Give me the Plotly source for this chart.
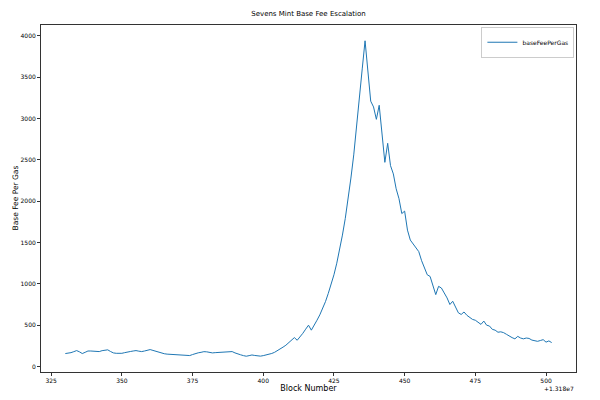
import plotly.graph_objects as go

BLOCK_OFFSET = 13180000
block_offsets = list(range(330, 503))
base_fee = [
    157, 160, 168, 180, 193, 178, 157, 172, 188, 188,   # 330-339
    184, 182, 181, 192, 198, 202, 182, 165, 160, 158,   # 340-349
    160, 168, 178, 182, 188, 193, 186, 181, 188, 198,   # 350-359
    205, 195, 185, 167, 160, 155, 150, 147, 145, 148,   # 360-369
    144, 141, 140, 136, 133, 145, 158, 166, 172, 180,   # 370-379
    178, 170, 165, 168, 171, 173, 170, 176, 180, 181,   # 380-389
    165, 150, 142, 132, 125, 132, 140, 134, 127, 126,   # 390-399
    132, 138, 146, 158, 172, 190, 210, 235, 258, 285,   # 400-409
    315, 350, 318, 358, 402, 452, 500, 440, 495, 560,   # 410-419
    625, 700, 785, 885, 990, 1110, 1250, 1410, 1590, 1790,  # 420-429
    2020, 2280, 2560, 2880, 3240, 3600, 3940, 3560, 3210, 3140,  # 430-439
    2990, 3160, 2800, 2470, 2700, 2430, 2330, 2150, 2030, 1850,  # 440-449
    1880, 1650, 1530, 1480, 1440, 1390, 1280, 1200, 1110, 1090,  # 450-459
    980, 870, 970, 950, 890, 830, 750, 790, 720, 650,   # 460-469
    630, 660, 620, 590, 570, 560, 530, 510, 550, 500,   # 470-479
    490, 450, 440, 415, 420, 410, 390, 365, 350, 335,   # 480-489
    365, 345, 335, 345, 340, 320, 310, 305, 315, 325,   # 490-499
    295, 310, 290,                                      # 500-502
]
blocks = [BLOCK_OFFSET + b for b in block_offsets]
x_tick_offsets = [325, 350, 375, 400, 425, 450, 475, 500]
y_ticks = [0, 500, 1000, 1500, 2000, 2500, 3000, 3500, 4000]

FONT = "DejaVu Sans"
AX = "#333333"

fig = go.Figure()
fig.add_trace(go.Scatter(
    x=blocks, y=base_fee, mode="lines", name="baseFeePerGas",
    line=dict(color="#1f77b4", width=1),
))

fig.update_layout(
    template="none",
    width=600, height=400,
    margin=dict(l=41, r=24, t=25, b=28, pad=0),
    paper_bgcolor="white", plot_bgcolor="white",
    font=dict(family=FONT, size=6, color="black"),
    title=dict(text="Sevens Mint Base Fee Escalation", x=0.5, xanchor="center",
               xref="paper",
               y=1 - 14 / 400, yanchor="middle", font=dict(size=7, family=FONT, color="black")),
    showlegend=True,
    legend=dict(x=0.997, y=0.995, xanchor="right", yanchor="top",
                bordercolor="#cccccc", borderwidth=1, bgcolor="white",
                font=dict(size=6, family=FONT, color="black"), itemwidth=30,
                tracegroupgap=0),
)

fig.update_xaxes(
    range=[BLOCK_OFFSET + 321.4, BLOCK_OFFSET + 510.6],
    tickvals=[BLOCK_OFFSET + t for t in x_tick_offsets],
    ticktext=[str(t) for t in x_tick_offsets],
    automargin=False,
    showgrid=False, zeroline=False, showline=True, linecolor=AX, linewidth=1,
    mirror=True, ticks="outside", ticklen=3, tickcolor=AX,
    tickfont=dict(size=6, color="black"),
    title=dict(text="Block Number", font=dict(size=8, color="black"), standoff=1),
)
fig.update_yaxes(
    range=[-66, 4131],
    tickvals=y_ticks, ticktext=[str(t) for t in y_ticks],
    automargin=False,
    showgrid=False, zeroline=False, showline=True, linecolor=AX, linewidth=1,
    mirror=True, ticks="outside", ticklen=3, tickcolor=AX,
    tickfont=dict(size=6, color="black"),
)

# y-axis title placed as rotated text
fig.add_annotation(text="Base Fee Per Gas", xref="paper", yref="paper", x=0, y=0.5,
                   xanchor="center", yanchor="middle", xshift=-26, textangle=-90,
                   showarrow=False, font=dict(size=7.5, family=FONT, color="black"))

fig.add_annotation(text="+1.318e7", xref="paper", yref="paper", x=1, y=0,
                   xanchor="right", yanchor="top", yshift=-11, showarrow=False,
                   font=dict(size=6, family=FONT, color="black"))

fig.write_html("out.html", config={"displayModeBar": False},
               post_script="document.body.style.margin='0';document.body.style.overflow='hidden';")
